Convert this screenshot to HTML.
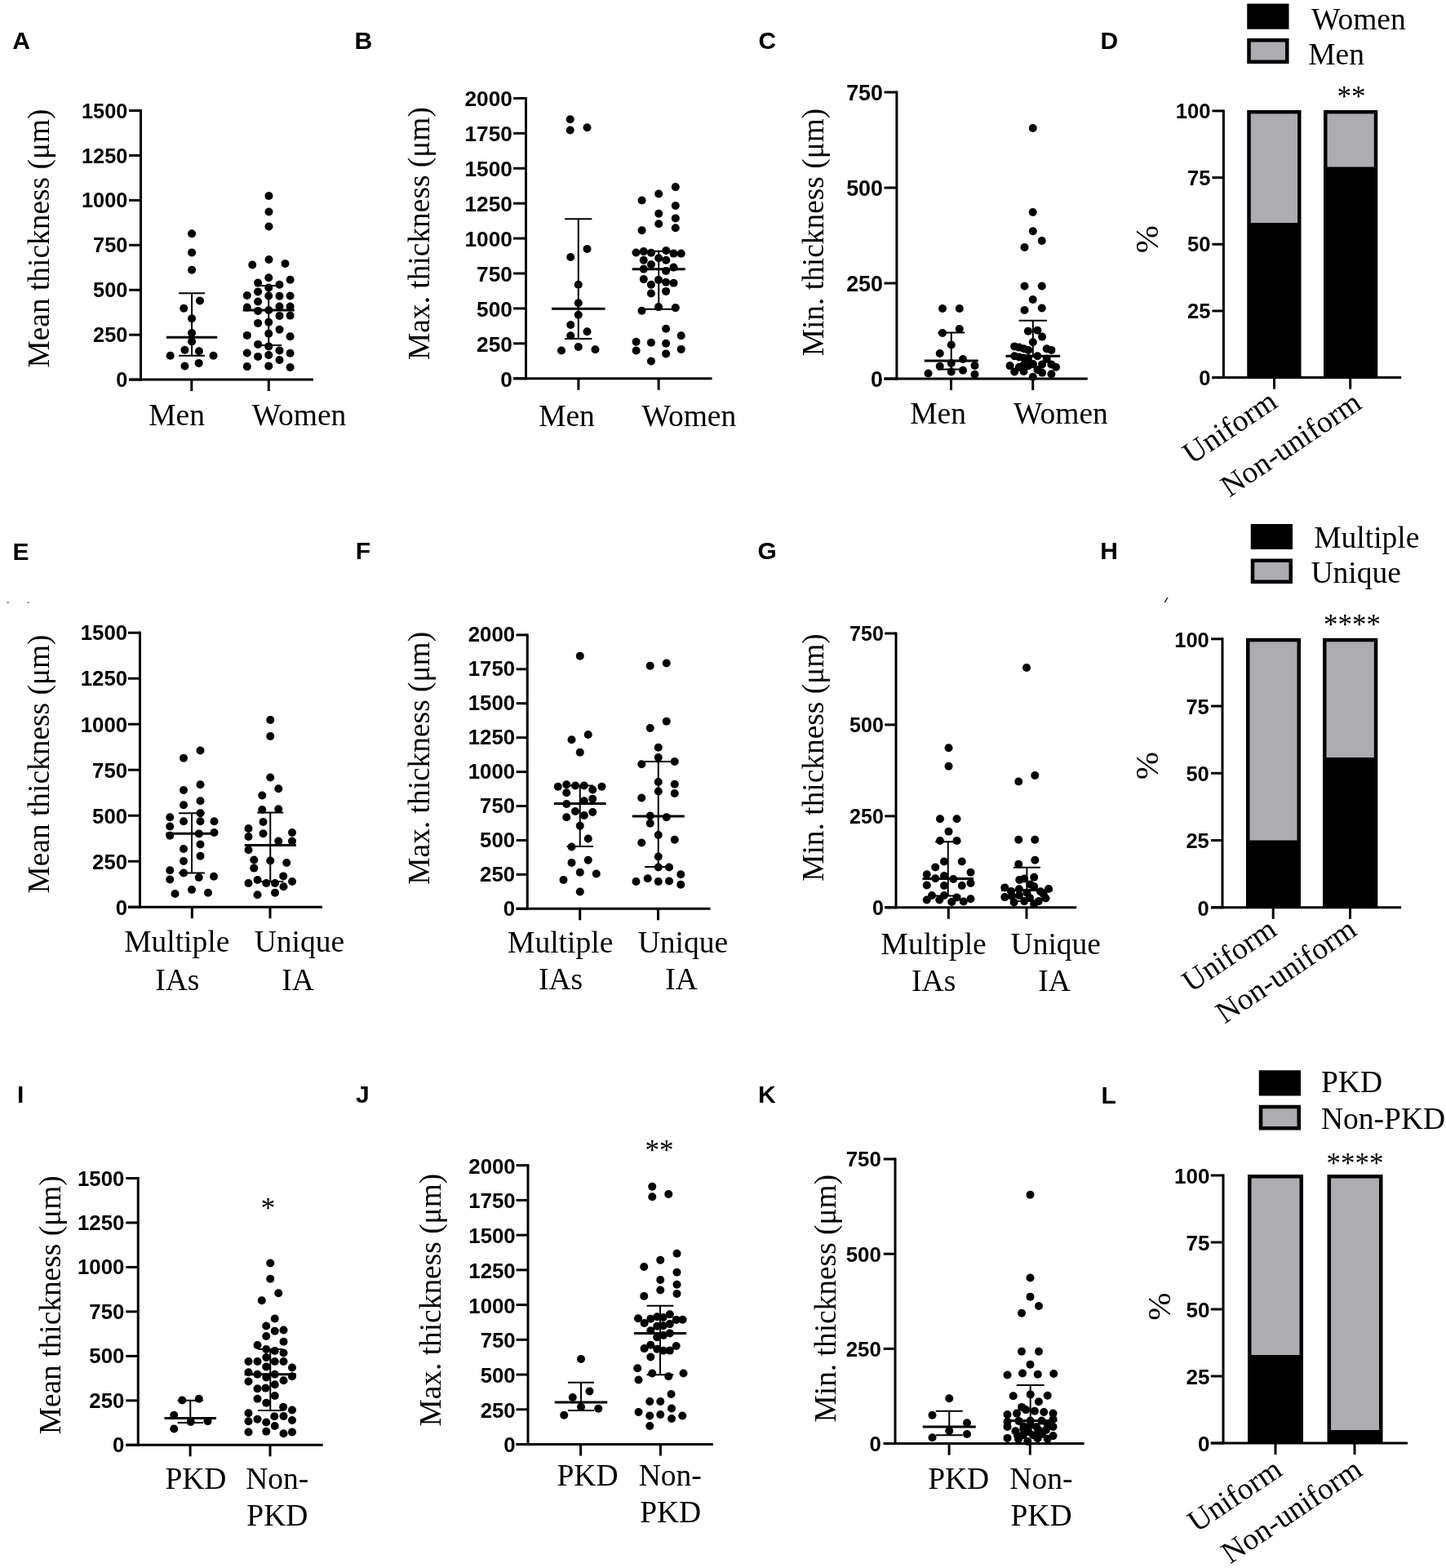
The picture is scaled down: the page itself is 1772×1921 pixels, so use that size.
<!DOCTYPE html>
<html><head><meta charset="utf-8"><title>Figure</title>
<style>
html,body{margin:0;padding:0;background:#fff;}
svg{display:block;}
svg line{stroke:#000;stroke-linecap:butt;}
svg circle{fill:#000;}
text{fill:#000;}
.lt{font-family:'Liberation Sans', Arial, sans-serif;font-weight:bold;font-size:30px;}
.tk{font-family:'Liberation Sans', Arial, sans-serif;font-weight:bold;font-size:25px;text-anchor:end;}
.xl{font-family:'Liberation Serif', 'Times New Roman', serif;font-size:37.5px;text-anchor:middle;}
.yt{font-family:'Liberation Serif', 'Times New Roman', serif;font-size:37.4px;text-anchor:middle;}
.st{font-family:'Liberation Serif', 'Times New Roman', serif;font-size:35px;text-anchor:middle;}
.lg{font-family:'Liberation Serif', 'Times New Roman', serif;font-size:37.5px;}
.pc{font-family:'Liberation Serif', 'Times New Roman', serif;font-size:41px;text-anchor:middle;}
.rl{font-family:'Liberation Serif', 'Times New Roman', serif;font-size:37.5px;text-anchor:end;}
</style></head><body>
<svg width="1772" height="1921" viewBox="0 0 1772 1921">
<rect width="1772" height="1921" fill="#fff"/>
<text class="lt" x="15.25" y="59.7">A</text>
<line x1="172.5" y1="134" x2="172.5" y2="466.6" stroke-width="3"/>
<line x1="158.1" y1="465.1" x2="172.5" y2="465.1" stroke-width="3"/>
<text class="tk" style="font-size:25.3px" x="156.3" y="474.21">0</text>
<line x1="158.1" y1="410.17" x2="172.5" y2="410.17" stroke-width="3"/>
<text class="tk" style="font-size:25.3px" x="156.3" y="419.27">250</text>
<line x1="158.1" y1="355.23" x2="172.5" y2="355.23" stroke-width="3"/>
<text class="tk" style="font-size:25.3px" x="156.3" y="364.34">500</text>
<line x1="158.1" y1="300.3" x2="172.5" y2="300.3" stroke-width="3"/>
<text class="tk" style="font-size:25.3px" x="156.3" y="309.41">750</text>
<line x1="158.1" y1="245.37" x2="172.5" y2="245.37" stroke-width="3"/>
<text class="tk" style="font-size:25.3px" x="156.3" y="254.47">1000</text>
<line x1="158.1" y1="190.43" x2="172.5" y2="190.43" stroke-width="3"/>
<text class="tk" style="font-size:25.3px" x="156.3" y="199.54">1250</text>
<line x1="158.1" y1="135.5" x2="172.5" y2="135.5" stroke-width="3"/>
<text class="tk" style="font-size:25.3px" x="156.3" y="144.61">1500</text>
<line x1="158.1" y1="465.1" x2="384" y2="465.1" stroke-width="3"/>
<line x1="234.8" y1="465.1" x2="234.8" y2="479.1" stroke-width="3"/>
<line x1="329.3" y1="465.1" x2="329.3" y2="479.1" stroke-width="3"/>
<text class="xl" x="216.65" y="520.8">Men</text>
<text class="xl" x="366.5" y="520.8">Women</text>
<text class="yt" transform="translate(59.9 292) rotate(-90)">Mean thickness (μm)</text>
<g>
<circle cx="235.06" cy="286.3" r="5"/>
<circle cx="235.06" cy="309.4" r="5"/>
<circle cx="235.06" cy="330.8" r="5"/>
<circle cx="244.95" cy="368.4" r="5"/>
<circle cx="225.2" cy="377.8" r="5"/>
<circle cx="235.06" cy="390.2" r="5"/>
<circle cx="235.06" cy="408" r="5"/>
<circle cx="235.06" cy="418.4" r="5"/>
<circle cx="226.45" cy="428.75" r="5"/>
<circle cx="243.96" cy="430.2" r="5"/>
<circle cx="208.65" cy="435.7" r="5"/>
<circle cx="261.5" cy="435.7" r="5"/>
<circle cx="226.45" cy="448.5" r="5"/>
<circle cx="243.66" cy="444.9" r="5"/>
<circle cx="329.5" cy="240" r="5"/>
<circle cx="329.5" cy="259.5" r="5"/>
<circle cx="329.5" cy="277.5" r="5"/>
<circle cx="329.5" cy="318" r="5"/>
<circle cx="309.25" cy="324.5" r="5"/>
<circle cx="349.5" cy="323" r="5"/>
<circle cx="329.25" cy="340.3" r="5"/>
<circle cx="355.6" cy="342.8" r="5"/>
<circle cx="316.1" cy="346.6" r="5"/>
<circle cx="342.5" cy="348.75" r="5"/>
<circle cx="329.25" cy="352.5" r="5"/>
<circle cx="316.1" cy="357.4" r="5"/>
<circle cx="302.8" cy="362" r="5"/>
<circle cx="329.25" cy="362.5" r="5"/>
<circle cx="342.5" cy="362.8" r="5"/>
<circle cx="355.6" cy="362.5" r="5"/>
<circle cx="316.1" cy="369.5" r="5"/>
<circle cx="302.8" cy="376.6" r="5"/>
<circle cx="342.5" cy="375.6" r="5"/>
<circle cx="355.6" cy="375.6" r="5"/>
<circle cx="316.1" cy="380.9" r="5"/>
<circle cx="329.25" cy="380" r="5"/>
<circle cx="342.5" cy="386.9" r="5"/>
<circle cx="355.6" cy="386.6" r="5"/>
<circle cx="316.1" cy="395.9" r="5"/>
<circle cx="329.25" cy="394.7" r="5"/>
<circle cx="342.5" cy="403.75" r="5"/>
<circle cx="302.8" cy="410.9" r="5"/>
<circle cx="329.25" cy="408.75" r="5"/>
<circle cx="355.6" cy="412.2" r="5"/>
<circle cx="316.1" cy="421.9" r="5"/>
<circle cx="329.25" cy="424.4" r="5"/>
<circle cx="342.5" cy="429.4" r="5"/>
<circle cx="302.8" cy="432.5" r="5"/>
<circle cx="355.6" cy="432.8" r="5"/>
<circle cx="316.1" cy="436.9" r="5"/>
<circle cx="329.25" cy="435" r="5"/>
<circle cx="342.5" cy="441" r="5"/>
<circle cx="302.8" cy="449.1" r="5"/>
<circle cx="329.25" cy="448.4" r="5"/>
<circle cx="355.6" cy="450" r="5"/>
</g>
<line x1="235.06" y1="359.3" x2="235.06" y2="435.7" stroke-width="2"/>
<line x1="219.11" y1="359.3" x2="251.01" y2="359.3" stroke-width="2"/>
<line x1="219.11" y1="435.7" x2="251.01" y2="435.7" stroke-width="2"/>
<line x1="203.91" y1="413.2" x2="266.21" y2="413.2" stroke-width="3"/>
<line x1="329.25" y1="350" x2="329.25" y2="423.1" stroke-width="2"/>
<line x1="313.25" y1="350" x2="345.25" y2="350" stroke-width="2"/>
<line x1="313.25" y1="423.1" x2="345.25" y2="423.1" stroke-width="2"/>
<line x1="297.75" y1="380" x2="360.75" y2="380" stroke-width="3"/>
<text class="lt" x="434.4" y="59.5">B</text>
<line x1="644.5" y1="118.9" x2="644.5" y2="465.25" stroke-width="3"/>
<line x1="629.1" y1="463.75" x2="644.5" y2="463.75" stroke-width="3"/>
<text class="tk" style="font-size:26.2px" x="627.8" y="473.63">0</text>
<line x1="629.1" y1="420.83" x2="644.5" y2="420.83" stroke-width="3"/>
<text class="tk" style="font-size:26.2px" x="627.8" y="430.71">250</text>
<line x1="629.1" y1="377.91" x2="644.5" y2="377.91" stroke-width="3"/>
<text class="tk" style="font-size:26.2px" x="627.8" y="387.79">500</text>
<line x1="629.1" y1="334.99" x2="644.5" y2="334.99" stroke-width="3"/>
<text class="tk" style="font-size:26.2px" x="627.8" y="344.87">750</text>
<line x1="629.1" y1="292.07" x2="644.5" y2="292.07" stroke-width="3"/>
<text class="tk" style="font-size:26.2px" x="627.8" y="301.95">1000</text>
<line x1="629.1" y1="249.16" x2="644.5" y2="249.16" stroke-width="3"/>
<text class="tk" style="font-size:26.2px" x="627.8" y="259.04">1250</text>
<line x1="629.1" y1="206.24" x2="644.5" y2="206.24" stroke-width="3"/>
<text class="tk" style="font-size:26.2px" x="627.8" y="216.12">1500</text>
<line x1="629.1" y1="163.32" x2="644.5" y2="163.32" stroke-width="3"/>
<text class="tk" style="font-size:26.2px" x="627.8" y="173.2">1750</text>
<line x1="629.1" y1="120.4" x2="644.5" y2="120.4" stroke-width="3"/>
<text class="tk" style="font-size:26.2px" x="627.8" y="130.28">2000</text>
<line x1="629.1" y1="463.75" x2="872.5" y2="463.75" stroke-width="3"/>
<line x1="708.9" y1="463.75" x2="708.9" y2="477.75" stroke-width="3"/>
<line x1="807.1" y1="463.75" x2="807.1" y2="477.75" stroke-width="3"/>
<text class="xl" x="694.5" y="522.4">Men</text>
<text class="xl" x="844.4" y="522.4">Women</text>
<text class="yt" transform="translate(525.88 286) rotate(-90)">Max. thickness (μm)</text>
<g>
<circle cx="698.75" cy="146.25" r="5"/>
<circle cx="698.75" cy="159.5" r="5"/>
<circle cx="719.5" cy="156.25" r="5"/>
<circle cx="719.5" cy="305" r="5"/>
<circle cx="699.25" cy="315" r="5"/>
<circle cx="708.75" cy="348.75" r="5"/>
<circle cx="708.75" cy="371.25" r="5"/>
<circle cx="708.75" cy="385.75" r="5"/>
<circle cx="699.25" cy="398" r="5"/>
<circle cx="719.5" cy="406.25" r="5"/>
<circle cx="699.25" cy="411.25" r="5"/>
<circle cx="688" cy="429.5" r="5"/>
<circle cx="708.75" cy="425" r="5"/>
<circle cx="729.5" cy="428.25" r="5"/>
<circle cx="827.8" cy="229.1" r="5"/>
<circle cx="807.2" cy="237.5" r="5"/>
<circle cx="786.6" cy="245.5" r="5"/>
<circle cx="827.8" cy="252" r="5"/>
<circle cx="807.2" cy="261.75" r="5"/>
<circle cx="827.8" cy="267.4" r="5"/>
<circle cx="807.2" cy="274.25" r="5"/>
<circle cx="827.8" cy="279.25" r="5"/>
<circle cx="786.6" cy="282.2" r="5"/>
<circle cx="779.5" cy="309.5" r="5"/>
<circle cx="788.75" cy="308.1" r="5"/>
<circle cx="798" cy="309.7" r="5"/>
<circle cx="816.25" cy="307" r="5"/>
<circle cx="825.5" cy="310.6" r="5"/>
<circle cx="834.7" cy="310.6" r="5"/>
<circle cx="788.75" cy="318.75" r="5"/>
<circle cx="807.2" cy="316.25" r="5"/>
<circle cx="816.25" cy="318.75" r="5"/>
<circle cx="798" cy="324" r="5"/>
<circle cx="788.8" cy="329.6" r="5"/>
<circle cx="816.1" cy="331.9" r="5"/>
<circle cx="825.5" cy="327.6" r="5"/>
<circle cx="788.8" cy="342.1" r="5"/>
<circle cx="807" cy="342.9" r="5"/>
<circle cx="797.9" cy="348.8" r="5"/>
<circle cx="816.1" cy="345.8" r="5"/>
<circle cx="825.5" cy="346.8" r="5"/>
<circle cx="797.9" cy="359.5" r="5"/>
<circle cx="816.1" cy="356.9" r="5"/>
<circle cx="807" cy="376.1" r="5"/>
<circle cx="786.5" cy="380.7" r="5"/>
<circle cx="827.8" cy="377.1" r="5"/>
<circle cx="816.1" cy="402.8" r="5"/>
<circle cx="834.7" cy="411.3" r="5"/>
<circle cx="779.6" cy="418.75" r="5"/>
<circle cx="797.9" cy="419.7" r="5"/>
<circle cx="816.1" cy="420.7" r="5"/>
<circle cx="779.6" cy="429.5" r="5"/>
<circle cx="834.7" cy="427.9" r="5"/>
<circle cx="816.1" cy="433.4" r="5"/>
<circle cx="797.9" cy="442.5" r="5"/>
</g>
<line x1="708.75" y1="268.25" x2="708.75" y2="415" stroke-width="2"/>
<line x1="692.15" y1="268.25" x2="725.35" y2="268.25" stroke-width="2"/>
<line x1="692.15" y1="415" x2="725.35" y2="415" stroke-width="2"/>
<line x1="676" y1="378.25" x2="741.5" y2="378.25" stroke-width="3"/>
<line x1="807.2" y1="307.8" x2="807.2" y2="378.7" stroke-width="2"/>
<line x1="790.2" y1="307.8" x2="824.2" y2="307.8" stroke-width="2"/>
<line x1="790.2" y1="378.7" x2="824.2" y2="378.7" stroke-width="2"/>
<line x1="774.7" y1="329.7" x2="839.7" y2="329.7" stroke-width="3"/>
<text class="lt" x="929.4" y="60">C</text>
<line x1="1098.9" y1="111.5" x2="1098.9" y2="465.5" stroke-width="3"/>
<line x1="1083.5" y1="464" x2="1098.9" y2="464" stroke-width="3"/>
<text class="tk" style="font-size:26.8px" x="1081.9" y="474.29">0</text>
<line x1="1083.5" y1="347" x2="1098.9" y2="347" stroke-width="3"/>
<text class="tk" style="font-size:26.8px" x="1081.9" y="357.29">250</text>
<line x1="1083.5" y1="230" x2="1098.9" y2="230" stroke-width="3"/>
<text class="tk" style="font-size:26.8px" x="1081.9" y="240.29">500</text>
<line x1="1083.5" y1="113" x2="1098.9" y2="113" stroke-width="3"/>
<text class="tk" style="font-size:26.8px" x="1081.9" y="123.29">750</text>
<line x1="1083.5" y1="464" x2="1332.8" y2="464" stroke-width="3"/>
<line x1="1165.5" y1="464" x2="1165.5" y2="478" stroke-width="3"/>
<line x1="1265.7" y1="464" x2="1265.7" y2="478" stroke-width="3"/>
<text class="xl" x="1149.55" y="519.2">Men</text>
<text class="xl" x="1299.95" y="519.2">Women</text>
<text class="yt" transform="translate(1009.2 284.5) rotate(-90)">Min. thickness (μm)</text>
<g>
<circle cx="1155" cy="378" r="5"/>
<circle cx="1175.75" cy="378" r="5"/>
<circle cx="1175.75" cy="403" r="5"/>
<circle cx="1155" cy="408" r="5"/>
<circle cx="1165.75" cy="422.5" r="5"/>
<circle cx="1151.75" cy="433" r="5"/>
<circle cx="1180" cy="440" r="5"/>
<circle cx="1165.75" cy="445" r="5"/>
<circle cx="1151.75" cy="448.75" r="5"/>
<circle cx="1194.5" cy="448" r="5"/>
<circle cx="1165.75" cy="455.5" r="5"/>
<circle cx="1180" cy="453.75" r="5"/>
<circle cx="1137.5" cy="457.5" r="5"/>
<circle cx="1194.5" cy="458.75" r="5"/>
<circle cx="1265.75" cy="157" r="5"/>
<circle cx="1265.75" cy="260" r="5"/>
<circle cx="1265.75" cy="283.25" r="5"/>
<circle cx="1276.75" cy="295" r="5"/>
<circle cx="1255.5" cy="303" r="5"/>
<circle cx="1255.5" cy="350.5" r="5"/>
<circle cx="1276.75" cy="350.5" r="5"/>
<circle cx="1265.75" cy="367" r="5"/>
<circle cx="1255.5" cy="380" r="5"/>
<circle cx="1276.75" cy="377.5" r="5"/>
<circle cx="1259.9" cy="405.8" r="5"/>
<circle cx="1271.4" cy="404.7" r="5"/>
<circle cx="1277.1" cy="412.6" r="5"/>
<circle cx="1265.8" cy="419.3" r="5"/>
<circle cx="1243.2" cy="424.4" r="5"/>
<circle cx="1248.9" cy="425.6" r="5"/>
<circle cx="1254.5" cy="427.2" r="5"/>
<circle cx="1260.1" cy="428.9" r="5"/>
<circle cx="1282.7" cy="427.2" r="5"/>
<circle cx="1288.4" cy="428.9" r="5"/>
<circle cx="1243.2" cy="436.3" r="5"/>
<circle cx="1248.9" cy="437.4" r="5"/>
<circle cx="1254.5" cy="438.5" r="5"/>
<circle cx="1260.1" cy="439" r="5"/>
<circle cx="1271.4" cy="436.3" r="5"/>
<circle cx="1282.7" cy="439.7" r="5"/>
<circle cx="1237.6" cy="448.1" r="5"/>
<circle cx="1248.9" cy="449.8" r="5"/>
<circle cx="1254.5" cy="447" r="5"/>
<circle cx="1260.1" cy="448.1" r="5"/>
<circle cx="1266" cy="446" r="5"/>
<circle cx="1277.1" cy="446.4" r="5"/>
<circle cx="1288.4" cy="446.4" r="5"/>
<circle cx="1294" cy="449.8" r="5"/>
<circle cx="1243.2" cy="455.5" r="5"/>
<circle cx="1254.5" cy="454.9" r="5"/>
<circle cx="1277.1" cy="456.6" r="5"/>
<circle cx="1288.4" cy="458.3" r="5"/>
<circle cx="1265.8" cy="461.7" r="5"/>
<circle cx="1271.4" cy="453" r="5"/>
</g>
<line x1="1165.75" y1="407.5" x2="1165.75" y2="452.5" stroke-width="2"/>
<line x1="1149.25" y1="407.5" x2="1182.25" y2="407.5" stroke-width="2"/>
<line x1="1149.25" y1="452.5" x2="1182.25" y2="452.5" stroke-width="2"/>
<line x1="1132.75" y1="442" x2="1198.75" y2="442" stroke-width="3"/>
<line x1="1265.8" y1="392.8" x2="1265.8" y2="436.3" stroke-width="2"/>
<line x1="1248.5" y1="392.8" x2="1283.1" y2="392.8" stroke-width="2"/>
<line x1="1248.5" y1="436.3" x2="1283.1" y2="436.3" stroke-width="2"/>
<line x1="1232.5" y1="436.3" x2="1299.1" y2="436.3" stroke-width="3"/>
<text class="lt" x="15.5" y="685.7">E</text>
<line x1="171.5" y1="773.7" x2="171.5" y2="1112.75" stroke-width="3"/>
<line x1="157" y1="1111.25" x2="171.5" y2="1111.25" stroke-width="3"/>
<text class="tk" style="font-size:25.8px" x="156.1" y="1120.54">0</text>
<line x1="157" y1="1055.24" x2="171.5" y2="1055.24" stroke-width="3"/>
<text class="tk" style="font-size:25.8px" x="156.1" y="1064.53">250</text>
<line x1="157" y1="999.23" x2="171.5" y2="999.23" stroke-width="3"/>
<text class="tk" style="font-size:25.8px" x="156.1" y="1008.52">500</text>
<line x1="157" y1="943.23" x2="171.5" y2="943.23" stroke-width="3"/>
<text class="tk" style="font-size:25.8px" x="156.1" y="952.51">750</text>
<line x1="157" y1="887.22" x2="171.5" y2="887.22" stroke-width="3"/>
<text class="tk" style="font-size:25.8px" x="156.1" y="896.5">1000</text>
<line x1="157" y1="831.21" x2="171.5" y2="831.21" stroke-width="3"/>
<text class="tk" style="font-size:25.8px" x="156.1" y="840.49">1250</text>
<line x1="157" y1="775.2" x2="171.5" y2="775.2" stroke-width="3"/>
<text class="tk" style="font-size:25.8px" x="156.1" y="784.49">1500</text>
<line x1="157" y1="1111.25" x2="395" y2="1111.25" stroke-width="3"/>
<line x1="235.3" y1="1111.25" x2="235.3" y2="1125.25" stroke-width="3"/>
<line x1="331" y1="1111.25" x2="331" y2="1125.25" stroke-width="3"/>
<text class="xl" x="216.75" y="1166.4">Multiple</text>
<text class="xl" x="217.3" y="1212.6">IAs</text>
<text class="xl" x="366.9" y="1166.4">Unique</text>
<text class="xl" x="365.05" y="1212.6">IA</text>
<text class="yt" transform="translate(59.9 936) rotate(-90)">Mean thickness (μm)</text>
<g>
<circle cx="245.5" cy="919.5" r="5"/>
<circle cx="225" cy="928.75" r="5"/>
<circle cx="245.5" cy="961.25" r="5"/>
<circle cx="225" cy="968" r="5"/>
<circle cx="245.5" cy="981.25" r="5"/>
<circle cx="225" cy="986.25" r="5"/>
<circle cx="245.5" cy="996.25" r="5"/>
<circle cx="208.25" cy="1001.25" r="5"/>
<circle cx="225" cy="1006.25" r="5"/>
<circle cx="245.5" cy="1006.25" r="5"/>
<circle cx="262.5" cy="1006.25" r="5"/>
<circle cx="208.25" cy="1012.5" r="5"/>
<circle cx="208.25" cy="1023.75" r="5"/>
<circle cx="243.8" cy="1021.4" r="5"/>
<circle cx="262.5" cy="1020" r="5"/>
<circle cx="245.5" cy="1034.5" r="5"/>
<circle cx="225" cy="1040" r="5"/>
<circle cx="245.5" cy="1048.75" r="5"/>
<circle cx="225" cy="1055" r="5"/>
<circle cx="208.25" cy="1066.25" r="5"/>
<circle cx="225" cy="1069.5" r="5"/>
<circle cx="243.75" cy="1075" r="5"/>
<circle cx="262" cy="1073.75" r="5"/>
<circle cx="208.25" cy="1077.5" r="5"/>
<circle cx="214.5" cy="1095" r="5"/>
<circle cx="235" cy="1090" r="5"/>
<circle cx="255" cy="1093.75" r="5"/>
<circle cx="331.25" cy="882" r="5"/>
<circle cx="331.25" cy="902" r="5"/>
<circle cx="331.25" cy="952.5" r="5"/>
<circle cx="341.25" cy="966.25" r="5"/>
<circle cx="321.25" cy="974.5" r="5"/>
<circle cx="321.25" cy="992" r="5"/>
<circle cx="341.25" cy="991.25" r="5"/>
<circle cx="322.5" cy="1007" r="5"/>
<circle cx="304.5" cy="1015" r="5"/>
<circle cx="358" cy="1020" r="5"/>
<circle cx="304.5" cy="1025" r="5"/>
<circle cx="322.5" cy="1021.25" r="5"/>
<circle cx="341.25" cy="1030.5" r="5"/>
<circle cx="358" cy="1030.5" r="5"/>
<circle cx="304.5" cy="1041.25" r="5"/>
<circle cx="311.25" cy="1053.5" r="5"/>
<circle cx="331.25" cy="1054.5" r="5"/>
<circle cx="351.25" cy="1057" r="5"/>
<circle cx="311.25" cy="1063.6" r="5"/>
<circle cx="347.2" cy="1073.4" r="5"/>
<circle cx="304.5" cy="1082" r="5"/>
<circle cx="315.5" cy="1078" r="5"/>
<circle cx="326.25" cy="1082" r="5"/>
<circle cx="337" cy="1082" r="5"/>
<circle cx="347.5" cy="1086.25" r="5"/>
<circle cx="358" cy="1080" r="5"/>
<circle cx="315.5" cy="1096.25" r="5"/>
<circle cx="337" cy="1093.75" r="5"/>
</g>
<line x1="235" y1="996.25" x2="235" y2="1069.5" stroke-width="2"/>
<line x1="219.1" y1="996.25" x2="250.9" y2="996.25" stroke-width="2"/>
<line x1="219.1" y1="1069.5" x2="250.9" y2="1069.5" stroke-width="2"/>
<line x1="203.4" y1="1021.25" x2="266.6" y2="1021.25" stroke-width="3"/>
<line x1="331.25" y1="995.5" x2="331.25" y2="1080" stroke-width="2"/>
<line x1="315.25" y1="995.5" x2="347.25" y2="995.5" stroke-width="2"/>
<line x1="315.25" y1="1080" x2="347.25" y2="1080" stroke-width="2"/>
<line x1="299.75" y1="1035.5" x2="362.75" y2="1035.5" stroke-width="3"/>
<text class="lt" x="435.75" y="684.7">F</text>
<line x1="646.25" y1="776.4" x2="646.25" y2="1114.8" stroke-width="3"/>
<line x1="632.6" y1="1113.3" x2="646.25" y2="1113.3" stroke-width="3"/>
<text class="tk" style="font-size:25.8px" x="631.1" y="1121.64">0</text>
<line x1="632.6" y1="1071.38" x2="646.25" y2="1071.38" stroke-width="3"/>
<text class="tk" style="font-size:25.8px" x="631.1" y="1079.71">250</text>
<line x1="632.6" y1="1029.45" x2="646.25" y2="1029.45" stroke-width="3"/>
<text class="tk" style="font-size:25.8px" x="631.1" y="1037.79">500</text>
<line x1="632.6" y1="987.52" x2="646.25" y2="987.52" stroke-width="3"/>
<text class="tk" style="font-size:25.8px" x="631.1" y="995.86">750</text>
<line x1="632.6" y1="945.6" x2="646.25" y2="945.6" stroke-width="3"/>
<text class="tk" style="font-size:25.8px" x="631.1" y="953.94">1000</text>
<line x1="632.6" y1="903.67" x2="646.25" y2="903.67" stroke-width="3"/>
<text class="tk" style="font-size:25.8px" x="631.1" y="912.01">1250</text>
<line x1="632.6" y1="861.75" x2="646.25" y2="861.75" stroke-width="3"/>
<text class="tk" style="font-size:25.8px" x="631.1" y="870.09">1500</text>
<line x1="632.6" y1="819.83" x2="646.25" y2="819.83" stroke-width="3"/>
<text class="tk" style="font-size:25.8px" x="631.1" y="828.16">1750</text>
<line x1="632.6" y1="777.9" x2="646.25" y2="777.9" stroke-width="3"/>
<text class="tk" style="font-size:25.8px" x="631.1" y="786.24">2000</text>
<line x1="632.6" y1="1113.3" x2="870.5" y2="1113.3" stroke-width="3"/>
<line x1="710.7" y1="1113.3" x2="710.7" y2="1127.3" stroke-width="3"/>
<line x1="806.5" y1="1113.3" x2="806.5" y2="1127.3" stroke-width="3"/>
<text class="xl" x="686.7" y="1166.9">Multiple</text>
<text class="xl" x="687.05" y="1211.6">IAs</text>
<text class="xl" x="836.9" y="1166.9">Unique</text>
<text class="xl" x="835.05" y="1211.6">IA</text>
<text class="yt" transform="translate(525.75 928.8) rotate(-90)">Max. thickness (μm)</text>
<g>
<circle cx="710.75" cy="803.75" r="5"/>
<circle cx="720.75" cy="900" r="5"/>
<circle cx="700.5" cy="906.25" r="5"/>
<circle cx="710.75" cy="921.75" r="5"/>
<circle cx="683.75" cy="963.75" r="5"/>
<circle cx="694.25" cy="961.25" r="5"/>
<circle cx="705" cy="962.5" r="5"/>
<circle cx="715.75" cy="962.5" r="5"/>
<circle cx="726.25" cy="967.5" r="5"/>
<circle cx="737.5" cy="963.75" r="5"/>
<circle cx="694.25" cy="971.25" r="5"/>
<circle cx="715.75" cy="981.25" r="5"/>
<circle cx="726.25" cy="978.75" r="5"/>
<circle cx="694.25" cy="985" r="5"/>
<circle cx="715.8" cy="999" r="5"/>
<circle cx="726.25" cy="995" r="5"/>
<circle cx="705" cy="994" r="5"/>
<circle cx="694.25" cy="1001.25" r="5"/>
<circle cx="710.75" cy="1011.75" r="5"/>
<circle cx="720.75" cy="1027.5" r="5"/>
<circle cx="700.5" cy="1037.5" r="5"/>
<circle cx="720.75" cy="1053.75" r="5"/>
<circle cx="700.5" cy="1057" r="5"/>
<circle cx="710.75" cy="1068.75" r="5"/>
<circle cx="730.75" cy="1070.5" r="5"/>
<circle cx="690.5" cy="1078" r="5"/>
<circle cx="710.75" cy="1092.5" r="5"/>
<circle cx="796.75" cy="815.75" r="5"/>
<circle cx="816.75" cy="812.5" r="5"/>
<circle cx="816.75" cy="883.75" r="5"/>
<circle cx="796.75" cy="892" r="5"/>
<circle cx="806.75" cy="915.75" r="5"/>
<circle cx="806.75" cy="928" r="5"/>
<circle cx="786.25" cy="936.25" r="5"/>
<circle cx="826.75" cy="933" r="5"/>
<circle cx="806.75" cy="958" r="5"/>
<circle cx="826.75" cy="960.75" r="5"/>
<circle cx="806.75" cy="969.5" r="5"/>
<circle cx="826.75" cy="972" r="5"/>
<circle cx="786.25" cy="977.5" r="5"/>
<circle cx="796.75" cy="999.5" r="5"/>
<circle cx="816.75" cy="1001.25" r="5"/>
<circle cx="796.75" cy="1008.75" r="5"/>
<circle cx="806.75" cy="1023" r="5"/>
<circle cx="786.25" cy="1032.5" r="5"/>
<circle cx="826.75" cy="1028.75" r="5"/>
<circle cx="806.75" cy="1049.5" r="5"/>
<circle cx="806.75" cy="1062.5" r="5"/>
<circle cx="820" cy="1062.5" r="5"/>
<circle cx="834.25" cy="1071.25" r="5"/>
<circle cx="793.75" cy="1076.25" r="5"/>
<circle cx="779.5" cy="1080" r="5"/>
<circle cx="806.75" cy="1080" r="5"/>
<circle cx="820" cy="1079.5" r="5"/>
<circle cx="834.25" cy="1083.75" r="5"/>
</g>
<line x1="710.75" y1="962.5" x2="710.75" y2="1037" stroke-width="2"/>
<line x1="694.55" y1="962.5" x2="726.95" y2="962.5" stroke-width="2"/>
<line x1="694.55" y1="1037" x2="726.95" y2="1037" stroke-width="2"/>
<line x1="678.85" y1="984.5" x2="742.65" y2="984.5" stroke-width="3"/>
<line x1="806.75" y1="933" x2="806.75" y2="1062" stroke-width="2"/>
<line x1="790.15" y1="933" x2="823.35" y2="933" stroke-width="2"/>
<line x1="790.15" y1="1062" x2="823.35" y2="1062" stroke-width="2"/>
<line x1="774.75" y1="1000" x2="838.75" y2="1000" stroke-width="3"/>
<text class="lt" x="928.4" y="684.8">G</text>
<line x1="1098" y1="774.5" x2="1098" y2="1113.3" stroke-width="3"/>
<line x1="1084.2" y1="1111.8" x2="1098" y2="1111.8" stroke-width="3"/>
<text class="tk" style="font-size:25px" x="1082.8" y="1121.25">0</text>
<line x1="1084.2" y1="999.87" x2="1098" y2="999.87" stroke-width="3"/>
<text class="tk" style="font-size:25px" x="1082.8" y="1009.32">250</text>
<line x1="1084.2" y1="887.93" x2="1098" y2="887.93" stroke-width="3"/>
<text class="tk" style="font-size:25px" x="1082.8" y="897.38">500</text>
<line x1="1084.2" y1="776" x2="1098" y2="776" stroke-width="3"/>
<text class="tk" style="font-size:25px" x="1082.8" y="785.45">750</text>
<line x1="1084.2" y1="1111.8" x2="1319.2" y2="1111.8" stroke-width="3"/>
<line x1="1162.3" y1="1111.8" x2="1162.3" y2="1125.8" stroke-width="3"/>
<line x1="1258" y1="1111.8" x2="1258" y2="1125.8" stroke-width="3"/>
<text class="xl" x="1144.15" y="1169.4">Multiple</text>
<text class="xl" x="1144.15" y="1213.8">IAs</text>
<text class="xl" x="1293.75" y="1169.4">Unique</text>
<text class="xl" x="1292.15" y="1213.8">IA</text>
<text class="yt" transform="translate(1009.2 928) rotate(-90)">Min. thickness (μm)</text>
<g>
<circle cx="1162.5" cy="916.25" r="5"/>
<circle cx="1162.5" cy="938.75" r="5"/>
<circle cx="1152" cy="1003.25" r="5"/>
<circle cx="1172.5" cy="1003.25" r="5"/>
<circle cx="1162.5" cy="1018.75" r="5"/>
<circle cx="1152" cy="1030" r="5"/>
<circle cx="1172.5" cy="1030" r="5"/>
<circle cx="1157" cy="1055.5" r="5"/>
<circle cx="1178.75" cy="1055.5" r="5"/>
<circle cx="1146.25" cy="1062.5" r="5"/>
<circle cx="1189.5" cy="1068.75" r="5"/>
<circle cx="1135.75" cy="1071.25" r="5"/>
<circle cx="1157" cy="1073" r="5"/>
<circle cx="1168.25" cy="1077" r="5"/>
<circle cx="1146.25" cy="1076.25" r="5"/>
<circle cx="1189.5" cy="1082" r="5"/>
<circle cx="1135.75" cy="1084.5" r="5"/>
<circle cx="1157" cy="1085" r="5"/>
<circle cx="1178.75" cy="1085" r="5"/>
<circle cx="1142" cy="1097" r="5"/>
<circle cx="1157" cy="1097" r="5"/>
<circle cx="1172.5" cy="1099.5" r="5"/>
<circle cx="1189.5" cy="1101.25" r="5"/>
<circle cx="1135.75" cy="1102.5" r="5"/>
<circle cx="1151.25" cy="1102.5" r="5"/>
<circle cx="1166.25" cy="1105" r="5"/>
<circle cx="1180.75" cy="1104.5" r="5"/>
<circle cx="1258" cy="818" r="5"/>
<circle cx="1268.25" cy="950" r="5"/>
<circle cx="1248.25" cy="957.5" r="5"/>
<circle cx="1248.25" cy="1028.75" r="5"/>
<circle cx="1268.25" cy="1028.75" r="5"/>
<circle cx="1268.3" cy="1053.7" r="5"/>
<circle cx="1248.2" cy="1058.7" r="5"/>
<circle cx="1267.2" cy="1074.7" r="5"/>
<circle cx="1249.3" cy="1077.9" r="5"/>
<circle cx="1255.2" cy="1076.5" r="5"/>
<circle cx="1231.3" cy="1087.4" r="5"/>
<circle cx="1248.9" cy="1089.2" r="5"/>
<circle cx="1267.2" cy="1086" r="5"/>
<circle cx="1285" cy="1089" r="5"/>
<circle cx="1275.1" cy="1092.3" r="5"/>
<circle cx="1239" cy="1091.9" r="5"/>
<circle cx="1231.3" cy="1099.1" r="5"/>
<circle cx="1278.7" cy="1095.5" r="5"/>
<circle cx="1258.4" cy="1093.7" r="5"/>
<circle cx="1242.6" cy="1105.4" r="5"/>
<circle cx="1255.2" cy="1104.1" r="5"/>
<circle cx="1272.8" cy="1104.1" r="5"/>
<circle cx="1267.2" cy="1107.2" r="5"/>
<circle cx="1248.9" cy="1097" r="5"/>
<circle cx="1262" cy="1100" r="5"/>
<circle cx="1240" cy="1098" r="5"/>
<circle cx="1262.5" cy="1083.5" r="5"/>
<circle cx="1281.5" cy="1100.5" r="5"/>
</g>
<line x1="1161.75" y1="1031.25" x2="1161.75" y2="1097.5" stroke-width="2"/>
<line x1="1146.15" y1="1031.25" x2="1177.35" y2="1031.25" stroke-width="2"/>
<line x1="1146.15" y1="1097.5" x2="1177.35" y2="1097.5" stroke-width="2"/>
<line x1="1130.5" y1="1076.5" x2="1193" y2="1076.5" stroke-width="3"/>
<line x1="1258.4" y1="1062.8" x2="1258.4" y2="1104" stroke-width="2"/>
<line x1="1241.9" y1="1062.8" x2="1274.9" y2="1062.8" stroke-width="2"/>
<line x1="1241.9" y1="1104" x2="1274.9" y2="1104" stroke-width="2"/>
<line x1="1226.9" y1="1090.5" x2="1289.9" y2="1090.5" stroke-width="3"/>
<text class="lt" x="21" y="1350.62">I</text>
<line x1="169.25" y1="1442" x2="169.25" y2="1771.8" stroke-width="3"/>
<line x1="154.3" y1="1770.3" x2="169.25" y2="1770.3" stroke-width="3"/>
<text class="tk" style="font-size:25.8px" x="152.4" y="1779.34">0</text>
<line x1="154.3" y1="1715.83" x2="169.25" y2="1715.83" stroke-width="3"/>
<text class="tk" style="font-size:25.8px" x="152.4" y="1724.87">250</text>
<line x1="154.3" y1="1661.37" x2="169.25" y2="1661.37" stroke-width="3"/>
<text class="tk" style="font-size:25.8px" x="152.4" y="1670.4">500</text>
<line x1="154.3" y1="1606.9" x2="169.25" y2="1606.9" stroke-width="3"/>
<text class="tk" style="font-size:25.8px" x="152.4" y="1615.94">750</text>
<line x1="154.3" y1="1552.43" x2="169.25" y2="1552.43" stroke-width="3"/>
<text class="tk" style="font-size:25.8px" x="152.4" y="1561.47">1000</text>
<line x1="154.3" y1="1497.97" x2="169.25" y2="1497.97" stroke-width="3"/>
<text class="tk" style="font-size:25.8px" x="152.4" y="1507">1250</text>
<line x1="154.3" y1="1443.5" x2="169.25" y2="1443.5" stroke-width="3"/>
<text class="tk" style="font-size:25.8px" x="152.4" y="1452.54">1500</text>
<line x1="154.3" y1="1770.3" x2="395.7" y2="1770.3" stroke-width="3"/>
<line x1="233.1" y1="1770.3" x2="233.1" y2="1784.3" stroke-width="3"/>
<line x1="331" y1="1770.3" x2="331" y2="1784.3" stroke-width="3"/>
<text class="xl" x="239.9" y="1824">PKD</text>
<text class="xl" x="339.8" y="1824">Non-</text>
<text class="xl" x="339.8" y="1869.2">PKD</text>
<text class="yt" transform="translate(73.55 1598.8) rotate(-90)">Mean thickness (μm)</text>
<g>
<circle cx="223.25" cy="1715.5" r="5"/>
<circle cx="243.75" cy="1713.75" r="5"/>
<circle cx="213.25" cy="1733.75" r="5"/>
<circle cx="233.75" cy="1742" r="5"/>
<circle cx="254.5" cy="1741.25" r="5"/>
<circle cx="213.25" cy="1750.5" r="5"/>
<circle cx="331.25" cy="1547.5" r="5"/>
<circle cx="331.25" cy="1566.75" r="5"/>
<circle cx="341.25" cy="1584.25" r="5"/>
<circle cx="320.75" cy="1593.25" r="5"/>
<circle cx="336.75" cy="1615.5" r="5"/>
<circle cx="326.25" cy="1624.5" r="5"/>
<circle cx="336.75" cy="1630.75" r="5"/>
<circle cx="347.5" cy="1629.5" r="5"/>
<circle cx="326.25" cy="1637" r="5"/>
<circle cx="347.5" cy="1643.75" r="5"/>
<circle cx="315.5" cy="1648" r="5"/>
<circle cx="326.25" cy="1653" r="5"/>
<circle cx="336.75" cy="1655" r="5"/>
<circle cx="347.5" cy="1657.5" r="5"/>
<circle cx="326.25" cy="1663" r="5"/>
<circle cx="304.5" cy="1668" r="5"/>
<circle cx="315.5" cy="1668" r="5"/>
<circle cx="336.75" cy="1668" r="5"/>
<circle cx="347.5" cy="1668" r="5"/>
<circle cx="326.25" cy="1674.5" r="5"/>
<circle cx="358" cy="1675.5" r="5"/>
<circle cx="304.5" cy="1681.25" r="5"/>
<circle cx="315.5" cy="1683.75" r="5"/>
<circle cx="336.75" cy="1683.75" r="5"/>
<circle cx="358" cy="1686.25" r="5"/>
<circle cx="326.25" cy="1687.5" r="5"/>
<circle cx="304.5" cy="1692.5" r="5"/>
<circle cx="347.5" cy="1691.25" r="5"/>
<circle cx="315.5" cy="1701.25" r="5"/>
<circle cx="336.75" cy="1696.25" r="5"/>
<circle cx="325.5" cy="1700.6" r="5"/>
<circle cx="336.75" cy="1710" r="5"/>
<circle cx="315.5" cy="1713.75" r="5"/>
<circle cx="326.25" cy="1718.75" r="5"/>
<circle cx="304.5" cy="1731.25" r="5"/>
<circle cx="358" cy="1727.5" r="5"/>
<circle cx="336.3" cy="1735.2" r="5"/>
<circle cx="347.1" cy="1723.7" r="5"/>
<circle cx="315.5" cy="1738.75" r="5"/>
<circle cx="347.5" cy="1735" r="5"/>
<circle cx="304.5" cy="1741.25" r="5"/>
<circle cx="358" cy="1740" r="5"/>
<circle cx="326.25" cy="1742.5" r="5"/>
<circle cx="336.75" cy="1747" r="5"/>
<circle cx="304.5" cy="1754.5" r="5"/>
<circle cx="326.25" cy="1753.75" r="5"/>
<circle cx="347.5" cy="1756.25" r="5"/>
<circle cx="358" cy="1754.5" r="5"/>
</g>
<line x1="233.25" y1="1715.75" x2="233.25" y2="1743" stroke-width="2"/>
<line x1="217.65" y1="1715.75" x2="248.85" y2="1715.75" stroke-width="2"/>
<line x1="217.65" y1="1743" x2="248.85" y2="1743" stroke-width="2"/>
<line x1="201.5" y1="1737.5" x2="265" y2="1737.5" stroke-width="3"/>
<line x1="331.25" y1="1653" x2="331.25" y2="1728" stroke-width="2"/>
<line x1="316.25" y1="1653" x2="346.25" y2="1653" stroke-width="2"/>
<line x1="316.25" y1="1728" x2="346.25" y2="1728" stroke-width="2"/>
<line x1="299.75" y1="1683.75" x2="362.75" y2="1683.75" stroke-width="3"/>
<text class="st" x="328.4" y="1492.28">*</text>
<text class="lt" x="436" y="1350.75">J</text>
<line x1="647" y1="1426.2" x2="647" y2="1771" stroke-width="3"/>
<line x1="632.6" y1="1769.5" x2="647" y2="1769.5" stroke-width="3"/>
<text class="tk" style="font-size:25.8px" x="631.7" y="1779.49">0</text>
<line x1="632.6" y1="1726.78" x2="647" y2="1726.78" stroke-width="3"/>
<text class="tk" style="font-size:25.8px" x="631.7" y="1736.76">250</text>
<line x1="632.6" y1="1684.05" x2="647" y2="1684.05" stroke-width="3"/>
<text class="tk" style="font-size:25.8px" x="631.7" y="1694.04">500</text>
<line x1="632.6" y1="1641.33" x2="647" y2="1641.33" stroke-width="3"/>
<text class="tk" style="font-size:25.8px" x="631.7" y="1651.31">750</text>
<line x1="632.6" y1="1598.6" x2="647" y2="1598.6" stroke-width="3"/>
<text class="tk" style="font-size:25.8px" x="631.7" y="1608.59">1000</text>
<line x1="632.6" y1="1555.88" x2="647" y2="1555.88" stroke-width="3"/>
<text class="tk" style="font-size:25.8px" x="631.7" y="1565.86">1250</text>
<line x1="632.6" y1="1513.15" x2="647" y2="1513.15" stroke-width="3"/>
<text class="tk" style="font-size:25.8px" x="631.7" y="1523.14">1500</text>
<line x1="632.6" y1="1470.43" x2="647" y2="1470.43" stroke-width="3"/>
<text class="tk" style="font-size:25.8px" x="631.7" y="1480.41">1750</text>
<line x1="632.6" y1="1427.7" x2="647" y2="1427.7" stroke-width="3"/>
<text class="tk" style="font-size:25.8px" x="631.7" y="1437.69">2000</text>
<line x1="632.6" y1="1769.5" x2="873.8" y2="1769.5" stroke-width="3"/>
<line x1="711.6" y1="1769.5" x2="711.6" y2="1783.5" stroke-width="3"/>
<line x1="809.4" y1="1769.5" x2="809.4" y2="1783.5" stroke-width="3"/>
<text class="xl" x="720" y="1820.2">PKD</text>
<text class="xl" x="821.2" y="1820.2">Non-</text>
<text class="xl" x="821.65" y="1865">PKD</text>
<text class="yt" transform="translate(540.45 1592.7) rotate(-90)">Max. thickness (μm)</text>
<g>
<circle cx="712" cy="1665" r="5"/>
<circle cx="722.5" cy="1704.5" r="5"/>
<circle cx="701.75" cy="1712" r="5"/>
<circle cx="712" cy="1723.75" r="5"/>
<circle cx="733.25" cy="1725.75" r="5"/>
<circle cx="691.25" cy="1733.75" r="5"/>
<circle cx="799.25" cy="1453.75" r="5"/>
<circle cx="799.25" cy="1466.25" r="5"/>
<circle cx="819.25" cy="1463" r="5"/>
<circle cx="829.5" cy="1535.75" r="5"/>
<circle cx="809.25" cy="1543.75" r="5"/>
<circle cx="789.25" cy="1552" r="5"/>
<circle cx="829.5" cy="1558.75" r="5"/>
<circle cx="809.25" cy="1568" r="5"/>
<circle cx="829.5" cy="1573.75" r="5"/>
<circle cx="809.25" cy="1580.5" r="5"/>
<circle cx="829.5" cy="1585" r="5"/>
<circle cx="789.25" cy="1588" r="5"/>
<circle cx="782" cy="1615.3" r="5"/>
<circle cx="789.6" cy="1621" r="5"/>
<circle cx="797.3" cy="1615.8" r="5"/>
<circle cx="805.2" cy="1613.3" r="5"/>
<circle cx="812.7" cy="1614" r="5"/>
<circle cx="820.8" cy="1610.3" r="5"/>
<circle cx="828.7" cy="1616.9" r="5"/>
<circle cx="836.6" cy="1616.7" r="5"/>
<circle cx="805.2" cy="1624.8" r="5"/>
<circle cx="812.7" cy="1624.3" r="5"/>
<circle cx="820.8" cy="1622.1" r="5"/>
<circle cx="797.3" cy="1630.2" r="5"/>
<circle cx="805.2" cy="1638.3" r="5"/>
<circle cx="812.9" cy="1635.9" r="5"/>
<circle cx="820.8" cy="1633.4" r="5"/>
<circle cx="789.6" cy="1652.1" r="5"/>
<circle cx="797.3" cy="1647.8" r="5"/>
<circle cx="805.2" cy="1652.8" r="5"/>
<circle cx="812.9" cy="1654.8" r="5"/>
<circle cx="820.8" cy="1654.6" r="5"/>
<circle cx="828.7" cy="1649" r="5"/>
<circle cx="797.3" cy="1662.5" r="5"/>
<circle cx="781.25" cy="1676.25" r="5"/>
<circle cx="799.25" cy="1682.5" r="5"/>
<circle cx="819.25" cy="1686.25" r="5"/>
<circle cx="837.5" cy="1682.5" r="5"/>
<circle cx="782.5" cy="1690.5" r="5"/>
<circle cx="822.5" cy="1708" r="5"/>
<circle cx="796.25" cy="1717" r="5"/>
<circle cx="809.25" cy="1717" r="5"/>
<circle cx="782.5" cy="1730" r="5"/>
<circle cx="823" cy="1725.5" r="5"/>
<circle cx="796.25" cy="1734.5" r="5"/>
<circle cx="809.25" cy="1733" r="5"/>
<circle cx="836.25" cy="1734.5" r="5"/>
<circle cx="823" cy="1738" r="5"/>
<circle cx="796.25" cy="1747" r="5"/>
</g>
<line x1="712" y1="1693.75" x2="712" y2="1728" stroke-width="2"/>
<line x1="696" y1="1693.75" x2="728" y2="1693.75" stroke-width="2"/>
<line x1="696" y1="1728" x2="728" y2="1728" stroke-width="2"/>
<line x1="679.75" y1="1718" x2="744.25" y2="1718" stroke-width="3"/>
<line x1="809" y1="1599.7" x2="809" y2="1684.25" stroke-width="2"/>
<line x1="792.6" y1="1599.7" x2="825.4" y2="1599.7" stroke-width="2"/>
<line x1="792.6" y1="1684.25" x2="825.4" y2="1684.25" stroke-width="2"/>
<line x1="776.9" y1="1633.4" x2="841.1" y2="1633.4" stroke-width="3"/>
<text class="st" x="807.9" y="1421.03">**</text>
<text class="lt" x="928.9" y="1350.5">K</text>
<line x1="1097" y1="1418.5" x2="1097" y2="1770.1" stroke-width="3"/>
<line x1="1082.7" y1="1768.6" x2="1097" y2="1768.6" stroke-width="3"/>
<text class="tk" style="font-size:25.8px" x="1079.8" y="1778.09">0</text>
<line x1="1082.7" y1="1652.4" x2="1097" y2="1652.4" stroke-width="3"/>
<text class="tk" style="font-size:25.8px" x="1079.8" y="1661.89">250</text>
<line x1="1082.7" y1="1536.2" x2="1097" y2="1536.2" stroke-width="3"/>
<text class="tk" style="font-size:25.8px" x="1079.8" y="1545.69">500</text>
<line x1="1082.7" y1="1420" x2="1097" y2="1420" stroke-width="3"/>
<text class="tk" style="font-size:25.8px" x="1079.8" y="1429.49">750</text>
<line x1="1082.7" y1="1768.6" x2="1328.6" y2="1768.6" stroke-width="3"/>
<line x1="1163.1" y1="1768.6" x2="1163.1" y2="1782.6" stroke-width="3"/>
<line x1="1262.3" y1="1768.6" x2="1262.3" y2="1782.6" stroke-width="3"/>
<text class="xl" x="1174.65" y="1824.4">PKD</text>
<text class="xl" x="1275.85" y="1824.4">Non-</text>
<text class="xl" x="1276" y="1868.8">PKD</text>
<text class="yt" transform="translate(1024.1 1590.7) rotate(-90)">Min. thickness (μm)</text>
<g>
<circle cx="1163.25" cy="1713.25" r="5"/>
<circle cx="1142.5" cy="1733.75" r="5"/>
<circle cx="1185" cy="1743.25" r="5"/>
<circle cx="1163.25" cy="1753" r="5"/>
<circle cx="1185" cy="1757" r="5"/>
<circle cx="1142.5" cy="1761.25" r="5"/>
<circle cx="1262.5" cy="1463.75" r="5"/>
<circle cx="1262.5" cy="1565.5" r="5"/>
<circle cx="1262.5" cy="1588.75" r="5"/>
<circle cx="1273" cy="1600" r="5"/>
<circle cx="1252" cy="1608.75" r="5"/>
<circle cx="1252" cy="1655.75" r="5"/>
<circle cx="1273" cy="1655.75" r="5"/>
<circle cx="1262.5" cy="1671.75" r="5"/>
<circle cx="1234.5" cy="1684.5" r="5"/>
<circle cx="1253" cy="1682.5" r="5"/>
<circle cx="1271.75" cy="1683.75" r="5"/>
<circle cx="1291.25" cy="1683" r="5"/>
<circle cx="1241.7" cy="1710.2" r="5"/>
<circle cx="1262.7" cy="1708.4" r="5"/>
<circle cx="1283.7" cy="1709.7" r="5"/>
<circle cx="1272.9" cy="1717.2" r="5"/>
<circle cx="1252.1" cy="1723.9" r="5"/>
<circle cx="1257.1" cy="1727.1" r="5"/>
<circle cx="1267.9" cy="1728.7" r="5"/>
<circle cx="1279.2" cy="1730" r="5"/>
<circle cx="1290.5" cy="1731.6" r="5"/>
<circle cx="1234.5" cy="1733" r="5"/>
<circle cx="1246" cy="1731.6" r="5"/>
<circle cx="1248.5" cy="1740.9" r="5"/>
<circle cx="1262.7" cy="1740.6" r="5"/>
<circle cx="1276.5" cy="1740.6" r="5"/>
<circle cx="1290.5" cy="1738.8" r="5"/>
<circle cx="1234.5" cy="1741.5" r="5"/>
<circle cx="1234.5" cy="1747.9" r="5"/>
<circle cx="1262.9" cy="1746" r="5"/>
<circle cx="1290.5" cy="1747.9" r="5"/>
<circle cx="1254.3" cy="1751" r="5"/>
<circle cx="1244.4" cy="1753.3" r="5"/>
<circle cx="1272.4" cy="1751.9" r="5"/>
<circle cx="1281.9" cy="1751.9" r="5"/>
<circle cx="1247.1" cy="1758.7" r="5"/>
<circle cx="1253.9" cy="1758.2" r="5"/>
<circle cx="1234.5" cy="1761.9" r="5"/>
<circle cx="1266.1" cy="1758.2" r="5"/>
<circle cx="1290.5" cy="1759.1" r="5"/>
<circle cx="1271.5" cy="1762.3" r="5"/>
<circle cx="1283.7" cy="1762.8" r="5"/>
<circle cx="1259.3" cy="1765.9" r="5"/>
<circle cx="1254.5" cy="1747.2" r="5"/>
<circle cx="1270.2" cy="1748" r="5"/>
<circle cx="1277" cy="1757" r="5"/>
<circle cx="1260.3" cy="1754" r="5"/>
<circle cx="1248" cy="1763" r="5"/>
<circle cx="1283.5" cy="1744.5" r="5"/>
</g>
<line x1="1163.25" y1="1728.75" x2="1163.25" y2="1758.25" stroke-width="2"/>
<line x1="1146.75" y1="1728.75" x2="1179.75" y2="1728.75" stroke-width="2"/>
<line x1="1146.75" y1="1758.25" x2="1179.75" y2="1758.25" stroke-width="2"/>
<line x1="1130.75" y1="1748" x2="1195.75" y2="1748" stroke-width="3"/>
<line x1="1262.7" y1="1697" x2="1262.7" y2="1757" stroke-width="2"/>
<line x1="1245.8" y1="1697" x2="1279.6" y2="1697" stroke-width="2"/>
<line x1="1245.8" y1="1757" x2="1279.6" y2="1757" stroke-width="2"/>
<line x1="1230" y1="1740.6" x2="1295.4" y2="1740.6" stroke-width="3"/>
<text class="lt" x="1348.5" y="59.5">D</text>
<line x1="1499.4" y1="134.4" x2="1499.4" y2="464.1" stroke-width="3"/>
<line x1="1485.4" y1="462.6" x2="1499.4" y2="462.6" stroke-width="3"/>
<text class="tk" style="font-size:25.5px" x="1483.4" y="471.78">0</text>
<line x1="1485.4" y1="380.93" x2="1499.4" y2="380.93" stroke-width="3"/>
<text class="tk" style="font-size:25.5px" x="1483.4" y="390.1">25</text>
<line x1="1485.4" y1="299.25" x2="1499.4" y2="299.25" stroke-width="3"/>
<text class="tk" style="font-size:25.5px" x="1483.4" y="308.43">50</text>
<line x1="1485.4" y1="217.57" x2="1499.4" y2="217.57" stroke-width="3"/>
<text class="tk" style="font-size:25.5px" x="1483.4" y="226.75">75</text>
<line x1="1485.4" y1="135.9" x2="1499.4" y2="135.9" stroke-width="3"/>
<text class="tk" style="font-size:25.5px" x="1483.4" y="145.08">100</text>
<line x1="1485.4" y1="462.6" x2="1717.2" y2="462.6" stroke-width="3"/>
<line x1="1561.5" y1="462.6" x2="1561.5" y2="476.6" stroke-width="3"/>
<line x1="1654.7" y1="462.6" x2="1654.7" y2="476.6" stroke-width="3"/>
<rect x="1528.25" y="134.9" width="66.25" height="327.7"/>
<rect fill="#adadb1" x="1532.75" y="139.4" width="57.25" height="133.6"/>
<rect x="1622" y="134.9" width="66.25" height="327.7"/>
<rect fill="#adadb1" x="1626.5" y="139.4" width="57.25" height="65.1"/>
<rect x="1528.25" y="4.5" width="51.25" height="31.25"/>
<text class="lg" x="1607" y="35.75">Women</text>
<rect x="1528.25" y="47" width="51.25" height="31"/>
<rect fill="#adadb1" x="1532.75" y="51.5" width="42.25" height="22"/>
<text class="lg" x="1603.25" y="78.75">Men</text>
<text class="st" x="1655.9" y="129.78">**</text>
<text class="pc" transform="translate(1418.5 293.1) rotate(-90)">%</text>
<text class="rl" transform="translate(1567.4 497.4) rotate(-34)">Uniform</text>
<text class="rl" transform="translate(1670.7 499) rotate(-34)">Non-uniform</text>
<text class="lt" x="1348.25" y="684.75">H</text>
<line x1="1498" y1="781.3" x2="1498" y2="1113.3" stroke-width="3"/>
<line x1="1484.1" y1="1111.8" x2="1498" y2="1111.8" stroke-width="3"/>
<text class="tk" style="font-size:25.5px" x="1481.8" y="1121.73">0</text>
<line x1="1484.1" y1="1029.55" x2="1498" y2="1029.55" stroke-width="3"/>
<text class="tk" style="font-size:25.5px" x="1481.8" y="1039.48">25</text>
<line x1="1484.1" y1="947.3" x2="1498" y2="947.3" stroke-width="3"/>
<text class="tk" style="font-size:25.5px" x="1481.8" y="957.23">50</text>
<line x1="1484.1" y1="865.05" x2="1498" y2="865.05" stroke-width="3"/>
<text class="tk" style="font-size:25.5px" x="1481.8" y="874.98">75</text>
<line x1="1484.1" y1="782.8" x2="1498" y2="782.8" stroke-width="3"/>
<text class="tk" style="font-size:25.5px" x="1481.8" y="792.73">100</text>
<line x1="1484.1" y1="1111.8" x2="1717.1" y2="1111.8" stroke-width="3"/>
<line x1="1560.2" y1="1111.8" x2="1560.2" y2="1125.8" stroke-width="3"/>
<line x1="1654.5" y1="1111.8" x2="1654.5" y2="1125.8" stroke-width="3"/>
<rect x="1527" y="781.8" width="67" height="330"/>
<rect fill="#adadb1" x="1531.5" y="786.3" width="58" height="243.2"/>
<rect x="1621" y="781.8" width="67.3" height="330"/>
<rect fill="#adadb1" x="1625.5" y="786.3" width="58.3" height="141.7"/>
<rect x="1532.75" y="642" width="51.25" height="31"/>
<text class="lg" x="1610.25" y="671.25">Multiple</text>
<rect x="1532.75" y="684.5" width="51.25" height="30.5"/>
<rect fill="#adadb1" x="1537.25" y="689" width="42.25" height="21.5"/>
<text class="lg" x="1606.5" y="713.75">Unique</text>
<text class="st" x="1657.1" y="777.27">****</text>
<text class="pc" transform="translate(1418.5 938.1) rotate(-90)">%</text>
<text class="rl" transform="translate(1566.6 1144.2) rotate(-34)">Uniform</text>
<text class="rl" transform="translate(1664.8 1144.2) rotate(-34)">Non-uniform</text>
<text class="lt" x="1349.5" y="1351.5">L</text>
<line x1="1499" y1="1438.5" x2="1499" y2="1769.5" stroke-width="3"/>
<line x1="1483.8" y1="1768" x2="1499" y2="1768" stroke-width="3"/>
<text class="tk" style="font-size:26px" x="1482.4" y="1777.81">0</text>
<line x1="1483.8" y1="1686" x2="1499" y2="1686" stroke-width="3"/>
<text class="tk" style="font-size:26px" x="1482.4" y="1695.81">25</text>
<line x1="1483.8" y1="1604" x2="1499" y2="1604" stroke-width="3"/>
<text class="tk" style="font-size:26px" x="1482.4" y="1613.81">50</text>
<line x1="1483.8" y1="1522" x2="1499" y2="1522" stroke-width="3"/>
<text class="tk" style="font-size:26px" x="1482.4" y="1531.81">75</text>
<line x1="1483.8" y1="1440" x2="1499" y2="1440" stroke-width="3"/>
<text class="tk" style="font-size:26px" x="1482.4" y="1449.81">100</text>
<line x1="1483.8" y1="1768" x2="1725" y2="1768" stroke-width="3"/>
<line x1="1563" y1="1768" x2="1563" y2="1782" stroke-width="3"/>
<line x1="1660" y1="1768" x2="1660" y2="1782" stroke-width="3"/>
<rect x="1529" y="1439" width="68" height="329"/>
<rect fill="#adadb1" x="1533.5" y="1443.5" width="59" height="216.5"/>
<rect x="1626.5" y="1439" width="68" height="329"/>
<rect fill="#adadb1" x="1631" y="1443.5" width="59" height="308.5"/>
<rect x="1542.75" y="1311.25" width="51.25" height="31.25"/>
<text class="lg" x="1619" y="1338">PKD</text>
<rect x="1542.75" y="1353.75" width="51.25" height="30.75"/>
<rect fill="#adadb1" x="1547.25" y="1358.25" width="42.25" height="21.75"/>
<text class="lg" x="1619" y="1383">Non-PKD</text>
<text class="st" x="1660.6" y="1437.28">****</text>
<text class="pc" transform="translate(1433.5 1600.6) rotate(-90)">%</text>
<text class="rl" transform="translate(1573.4 1805.9) rotate(-34)">Uniform</text>
<text class="rl" transform="translate(1671.6 1805.9) rotate(-34)">Non-uniform</text>
<ellipse cx="9.8" cy="738.2" rx="1.6" ry="0.9" fill="#8a8a8a"/>
<ellipse cx="34.7" cy="738.2" rx="1.6" ry="0.9" fill="#8a8a8a"/>
<line x1="1427.3" y1="737.9" x2="1431.0" y2="732.0" stroke="#777" stroke-width="1.3" stroke-linecap="round"/>
</svg></body></html>
